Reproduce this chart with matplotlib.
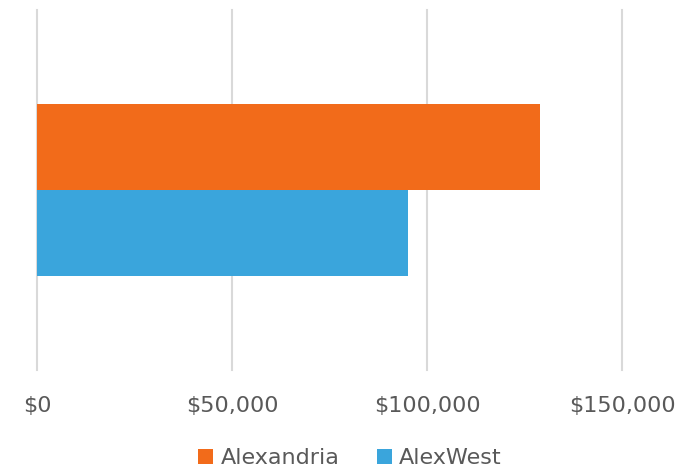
import matplotlib
matplotlib.use("Agg")
import matplotlib.pyplot as plt
from matplotlib.patches import Patch

series = ["Alexandria", "AlexWest"]
values = [129000, 95000]
colors = ["#F26B1A", "#3AA5DC"]
ticks = [0, 50000, 100000, 150000]
tick_labels = ["$0", "$50,000", "$100,000", "$150,000"]

plt.rcParams["font.family"] = ["DejaVu Sans Condensed", "DejaVu Sans"]
text_color = "#595959"

fig = plt.figure(figsize=(6.8, 4.72), dpi=100)
ax = fig.add_axes([37 / 680, 1 - 370 / 472, 585 / 680, 360 / 472])

positions = [0.239, -0.239]
for name, val, col, pos in zip(series, values, colors, positions):
    ax.barh(pos, val, height=0.478, color=col, label=name, zorder=3)

ax.set_xlim(0, 150000)
ax.set_ylim(-1, 1)
ax.set_yticks([])
ax.set_xticks(ticks)
ax.set_xticklabels(tick_labels, fontsize=16, color=text_color)
ax.tick_params(axis="x", length=0, pad=19)
for t in ticks:
    ax.axvline(t, color="#D9D9D9", lw=1.5, zorder=1, clip_on=False)
for s in ax.spines.values():
    s.set_visible(False)

handles = [Patch(facecolor=c, label=n) for n, c in zip(series, colors)]
fig.legend(handles=handles, loc="center", bbox_to_anchor=(350 / 680, 1 - 458 / 472),
           ncol=2, frameon=False, fontsize=16, labelcolor=text_color,
           handlelength=0.68, handleheight=0.68, handletextpad=0.32,
           columnspacing=1.7)

fig.savefig("out.png", dpi=100, facecolor="white")
